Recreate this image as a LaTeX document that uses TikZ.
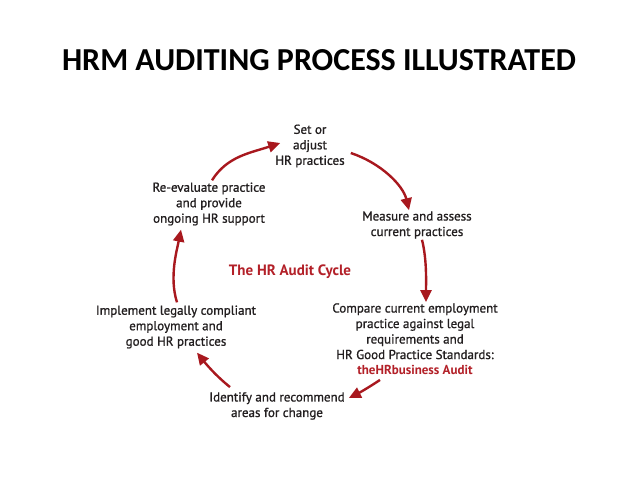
\documentclass[tikz,border=0pt]{standalone}
\usepackage{fontspec}
\setmainfont{PT Sans}[FakeBold=1.5]
\newfontfamily\titlefont{Carlito}
\newfontfamily\stagefont{PT Sans}[UprightFeatures={FakeBold=1.0}]
\usetikzlibrary{arrows.meta}
\definecolor{arrred}{HTML}{A8181E}
\definecolor{txtred}{HTML}{B32028}
\definecolor{txtgray}{HTML}{231F20}
\tikzset{
  stage/.style={align=center, inner sep=1pt, text=txtgray, font=\stagefont\fontsize{13}{15.5}\selectfont},
  cyc/.style={draw=arrred, line width=2.4pt, -{Triangle[length=12pt,width=11pt]}},
}
\begin{document}
\begin{tikzpicture}[x=1pt,y=-1pt]
\useasboundingbox[fill=white] (0,0) rectangle (638,479);
\node[font=\titlefont\bfseries\fontsize{32}{38}\selectfont, text=black] (title) at (319,60) {HRM AUDITING PROCESS ILLUSTRATED};
\node[stage] (set) at (310,146) {Set or\\adjust\\HR practices};
\node[stage] (reeval) at (209,204) {Re-evaluate practice\\and provide\\ongoing HR support};
\node[stage] (measure) at (417,225) {Measure and assess\\current practices};
\node[font=\stagefont\bfseries\fontsize{15}{18}\selectfont, text=txtred] (cycle) at (290,272) {The HR Audit Cycle};
\node[stage] (compare) at (415,339) {Compare current employment\\practice against legal\\requirements and\\HR Good Practice Standards:\\\textcolor{txtred}{\bfseries theHRbusiness Audit}};
\node[stage] (implement) at (176,327) {Implement legally compliant\\employment and\\good HR practices};
\node[stage] (identify) at (277,406) {Identify and recommend\\areas for change};
\draw[cyc] ([shift={(3,-1)}]reeval.north) .. controls +(15,-24) and +(-30,10) .. ([shift={(6,-3)}]set.west);
\draw[cyc] ([shift={(5,7)}]set.east) .. controls +(30,10) and +(-6,-25) .. ([shift={(-8,0)}]measure.north);
\draw[cyc] ([shift={(5,0)}]measure.south) .. controls +(5,20) and +(0,-20) .. ([shift={(11,0)}]compare.north);
\draw[cyc] ([shift={(-35,4)}]compare.south) .. controls +(-12,8) and +(10,-5) .. ([shift={(3,-8)}]identify.east);
\draw[cyc] ([shift={(-47,-4)}]identify.north) .. controls +(-15,-12) and +(8,10) .. ([shift={(21,3)}]implement.south);
\draw[cyc] ([shift={(1,-2)}]implement.north) .. controls +(-8,-25) and +(-4,20) .. ([shift={(-28,3)}]reeval.south);
\end{tikzpicture}
\end{document}
